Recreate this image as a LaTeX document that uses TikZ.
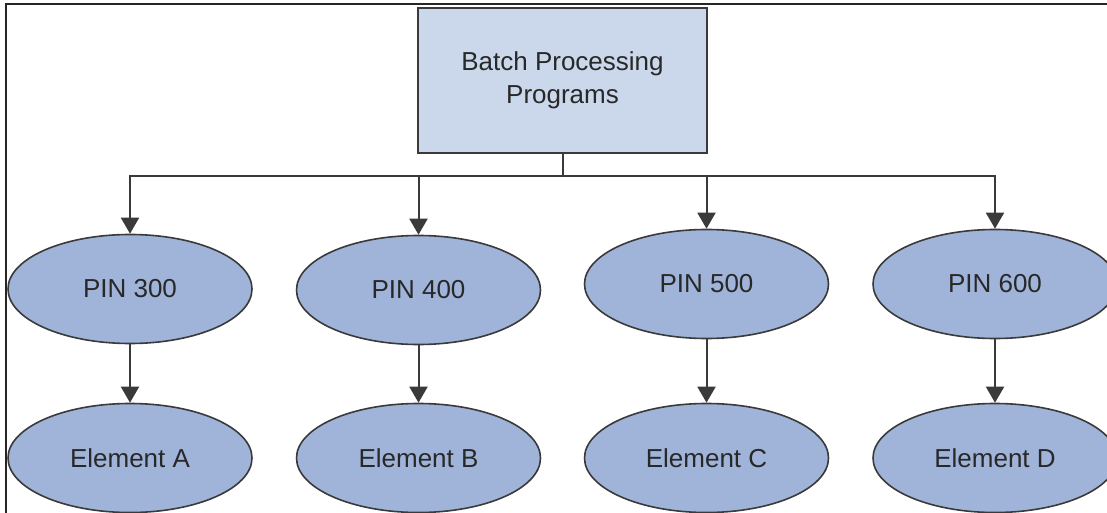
\documentclass[tikz,border=0pt]{standalone}
\usepackage{fontspec}
\setmainfont{Liberation Sans}
\usetikzlibrary{shapes.geometric,arrows.meta}
\definecolor{linegray}{RGB}{58,58,58}
\definecolor{txtgray}{RGB}{40,40,40}
\definecolor{boxfill}{RGB}{203,216,236}
\definecolor{ellfill}{RGB}{160,180,218}
\tikzset{
  topbox/.style={draw=linegray, line width=2.4pt, fill=boxfill, minimum width=289pt, minimum height=145pt, inner sep=0pt, align=center, text=txtgray, font=\fontsize{26}{33}\selectfont},
  oval/.style={ellipse, draw=linegray, line width=1.6pt, fill=ellfill, minimum width=244pt, minimum height=109pt, inner sep=0pt, text=txtgray, font=\fontsize{26}{31}\selectfont},
  conn/.style={draw=linegray, line width=2pt},
  arr/.style={conn, -{Triangle[width=18pt,length=16pt]}},
  frame/.style={draw=black!85, line width=1.5pt}
}
\begin{document}
\begin{tikzpicture}[x=1pt,y=-1pt]
\useasboundingbox (0,0) rectangle (1107,513);
\draw[frame] (1107,4) -- (6,4) -- (6,513);
\node[topbox] (bpp) at (562.5,80.5) {Batch Processing\\Programs};
\node[oval] (p3) at (130,289) {PIN 300};
\node[oval] (p4) at (418.5,290) {PIN 400};
\node[oval] (p5) at (706.5,284) {PIN 500};
\node[oval] (p6) at (995,284) {PIN 600};
\node[oval] (ea) at (130,458) {Element A};
\node[oval] (eb) at (418.5,458) {Element B};
\node[oval] (ec) at (706.5,458) {Element C};
\node[oval] (ed) at (995,458) {Element D};
\coordinate (j) at (562.5,176);
\draw[conn] (bpp.south) -- (j);
\draw[arr] (j) -| (p3.north);
\draw[arr] (j) -| (p4.north);
\draw[arr] (j) -| (p5.north);
\draw[arr] (j) -| (p6.north);
\draw[arr] (p3) -- (ea);
\draw[arr] (p4) -- (eb);
\draw[arr] (p5) -- (ec);
\draw[arr] (p6) -- (ed);
\end{tikzpicture}
\end{document}
